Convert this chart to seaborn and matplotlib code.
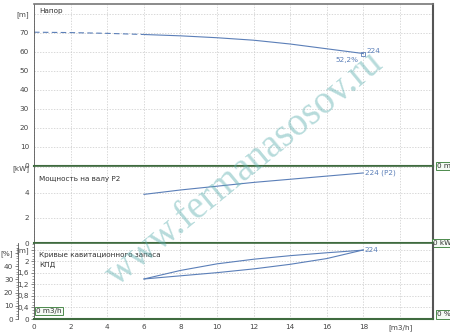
import matplotlib
matplotlib.use("Agg")
import matplotlib.pyplot as plt
import seaborn as sns
from matplotlib.ticker import MultipleLocator, FixedLocator

sns.set_style("white")
plt.rcParams["font.family"] = ["DejaVu Sans"]

# pump curve values
FLOW_EXT = [0, 2, 4, 6]
HEAD_EXT = [70.2, 70.0, 69.6, 69.0]
FLOW = [6, 8, 10, 12, 14, 16, 18]
HEAD = [69.0, 68.3, 67.3, 66.0, 64.0, 61.5, 59.0]
POWER = [3.85, 4.2, 4.5, 4.8, 5.05, 5.3, 5.55]
EFF = [30.3, 36.8, 41.8, 45.3, 48.0, 50.2, 52.2]
NPSH = [1.39, 1.50, 1.61, 1.74, 1.90, 2.10, 2.40]

X_TICKS = [0, 2, 4, 6, 8, 10, 12, 14, 16, 18, 20]
X_LABELS = ["0", "2", "4", "6", "8", "10", "12", "14", "16", "18", "[m3/h]"]

LINE = "#5b7fb8"
FRAME = "#3f6b3f"
GRID = "#c9c9c9"
TXT = "#444444"
FS = 5.2


def style_panel(ax, show_x=False):
    ax.set_xlim(0, 21.8)
    ax.xaxis.set_major_locator(FixedLocator(X_TICKS))
    ax.xaxis.set_minor_locator(MultipleLocator(0.5))
    if show_x:
        ax.set_xticklabels(X_LABELS)
    else:
        ax.tick_params(axis="x", labelbottom=False)
    ax.grid(True, which="major", color=GRID, linestyle=(0, (2, 2)), linewidth=0.5)
    ax.tick_params(axis="both", which="major", labelsize=FS, labelcolor=TXT,
                   length=2.5, width=0.5, pad=1, color="#555555")
    ax.tick_params(axis="both", which="minor", length=1.2, width=0.4, color="#555555")
    ax.set_xlabel("")
    ax.set_ylabel("")
    ax.spines["left"].set_color("#555555")
    ax.spines["left"].set_linewidth(0.6)
    ax.spines["right"].set_color("#555555")
    ax.spines["right"].set_linewidth(1.5)
    ax.spines["top"].set_color(FRAME)
    ax.spines["top"].set_linewidth(1.2)
    ax.spines["bottom"].set_color(FRAME)
    ax.spines["bottom"].set_linewidth(1.5)


def origin_box(ax, x, y, s, ha="left"):
    ax.text(x, y, s, transform=ax.transAxes, fontsize=FS, color="#333333",
            ha=ha, va="center", clip_on=False,
            bbox=dict(boxstyle="square,pad=0.15", fc="#f4faf4", ec="#4c8a4c", lw=0.7))


fig = plt.figure(figsize=(4.5, 3.32), dpi=100)
L, W = 34 / 450, 399 / 450
ax_h = fig.add_axes([L, 1 - 166 / 332, W, 162 / 332])
ax_p = fig.add_axes([L, 1 - 243 / 332, W, 77 / 332])
ax_n = fig.add_axes([L, 1 - 319 / 332, W, 76 / 332])

# head
sns.lineplot(x=FLOW_EXT, y=HEAD_EXT, ax=ax_h, color=LINE, linewidth=0.8,
             linestyle=(0, (5, 3)))
sns.lineplot(x=FLOW, y=HEAD, ax=ax_h, color=LINE, linewidth=0.8)
ax_h.plot(FLOW[-1], HEAD[-1], marker="s", ms=3, mfc="none", mec=LINE, mew=0.6)
ax_h.annotate("52,2%", (FLOW[-1], HEAD[-1]), xytext=(-12, -5), textcoords="offset points",
              fontsize=FS, color=LINE, ha="center", va="center")
ax_h.annotate("224", (FLOW[-1], HEAD[-1]), xytext=(7, 2), textcoords="offset points",
              fontsize=FS, color=LINE, ha="center", va="center")
ax_h.set_ylim(0, 85)
ax_h.yaxis.set_major_locator(FixedLocator([0, 10, 20, 30, 40, 50, 60, 70, 80]))
ax_h.set_yticklabels(["0", "10", "20", "30", "40", "50", "60", "70", "[m]"])
ax_h.yaxis.set_minor_locator(MultipleLocator(2))
style_panel(ax_h)
ax_h.spines["top"].set_color("#777777")
ax_h.text(0.012, 0.945, "Напор", transform=ax_h.transAxes, fontsize=FS, color="#333333")
origin_box(ax_h, 1.01, 0, "0 m")

# power
sns.lineplot(x=FLOW, y=POWER, ax=ax_p, color=LINE, linewidth=0.8)
ax_p.annotate("224 (P2)", (FLOW[-1], POWER[-1]), xytext=(1, 0), textcoords="offset points",
              fontsize=FS, color=LINE, ha="left", va="center")
ax_p.set_ylim(0, 6.1)
ax_p.yaxis.set_major_locator(FixedLocator([0, 2, 4, 6]))
ax_p.set_yticklabels(["0", "2", "4", "[kW]"])
ax_p.yaxis.set_minor_locator(MultipleLocator(0.25))
style_panel(ax_p)
ax_p.text(0.012, 0.80, "Мощность на валу P2", transform=ax_p.transAxes, fontsize=FS,
          color="#333333")
origin_box(ax_p, 1.0, 0, "0 kW")

# NPSH + efficiency
sns.lineplot(x=FLOW, y=NPSH, ax=ax_n, color=LINE, linewidth=0.8)
ax_n.set_ylim(0, 2.64)
ax_n.yaxis.set_major_locator(FixedLocator([0, 0.4, 0.8, 1.2, 1.6, 2.0, 2.4]))
ax_n.set_yticklabels(["0", "0,4", "0,8", "1,2", "1,6", "2", "[m]"])
ax_n.yaxis.set_minor_locator(MultipleLocator(0.1))
style_panel(ax_n, show_x=True)

ax_e = ax_n.twinx()
sns.lineplot(x=FLOW, y=EFF, ax=ax_e, color=LINE, linewidth=0.8)
ax_e.annotate("224", (FLOW[-1], EFF[-1]), xytext=(1, 0), textcoords="offset points",
              fontsize=FS, color=LINE, ha="left", va="center")
ax_e.set_ylim(0, 57.6)
ax_e.yaxis.tick_left()
ax_e.yaxis.set_label_position("left")
ax_e.spines["left"].set_position(("outward", 11.5))
ax_e.spines["left"].set_visible(True)
ax_e.spines["left"].set_color("#555555")
ax_e.spines["left"].set_linewidth(0.6)
for s in ["top", "right", "bottom"]:
    ax_e.spines[s].set_visible(False)
ax_e.yaxis.set_major_locator(FixedLocator([0, 10, 20, 30, 40, 50]))
ax_e.set_yticklabels(["0", "10", "20", "30", "40", "[%]"])
ax_e.yaxis.set_minor_locator(MultipleLocator(2))
ax_e.tick_params(axis="y", which="major", labelsize=FS, labelcolor=TXT, length=2.5,
                 width=0.5, pad=1, color="#555555")
ax_e.tick_params(axis="y", which="minor", length=1.2, width=0.4, color="#555555")
ax_e.set_ylabel("")
ax_n.text(0.012, 0.82, "Кривые кавитационного запаса", transform=ax_n.transAxes,
          fontsize=FS, color="#333333")
ax_n.text(0.012, 0.69, "КПД", transform=ax_n.transAxes, fontsize=FS, color="#333333")
origin_box(ax_n, 0.005, 0.1, "0 m3/h")
origin_box(ax_n, 1.01, 0.06, "0 %")

# watermark
fig.text(0.545, 0.49, "www.fermanasosov.ru", fontsize=28, color="#5fb0b0", alpha=0.45,
         rotation=39.5, ha="center", va="center", family="Liberation Serif")

fig.savefig("out.png", dpi=100, facecolor="white")
plt.close(fig)
